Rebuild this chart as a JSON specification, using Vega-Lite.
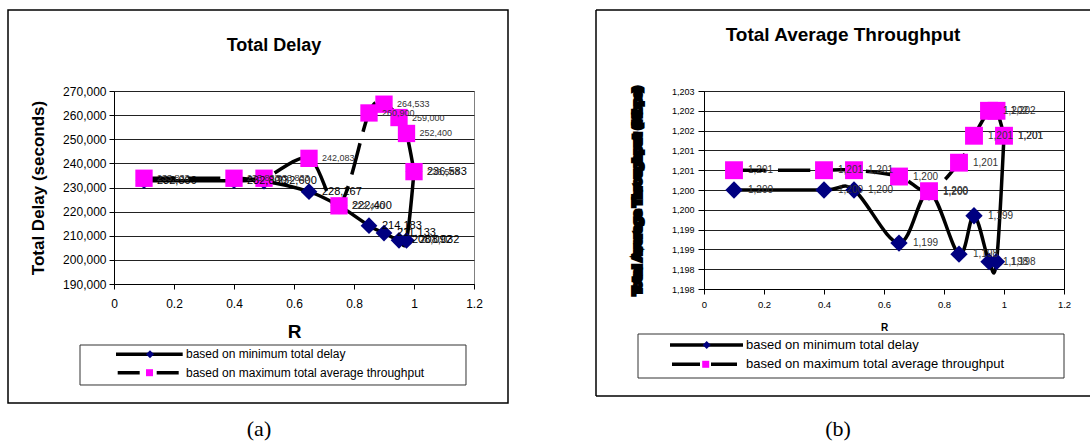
{
  "$schema": "https://vega.github.io/schema/vega-lite/v6.json",
  "padding": {"left": 6, "top": 8, "right": 0, "bottom": 0},
  "spacing": 84,
  "background": "white",
  "datasets": {
    "delay": [
      {"R": 0.1, "series": "based on minimum total delay", "value": 232800},
      {"R": 0.4, "series": "based on minimum total delay", "value": 232800},
      {"R": 0.5, "series": "based on minimum total delay", "value": 232600},
      {"R": 0.65, "series": "based on minimum total delay", "value": 228267},
      {"R": 0.75, "series": "based on minimum total delay", "value": 222400},
      {"R": 0.85, "series": "based on minimum total delay", "value": 214183},
      {"R": 0.9, "series": "based on minimum total delay", "value": 211133},
      {"R": 0.95, "series": "based on minimum total delay", "value": 208092},
      {"R": 0.975, "series": "based on minimum total delay", "value": 208032},
      {"R": 1.0, "series": "based on minimum total delay", "value": 236583},
      {"R": 0.1, "series": "based on maximum total average throughput", "value": 233833},
      {"R": 0.4, "series": "based on maximum total average throughput", "value": 233833},
      {"R": 0.5, "series": "based on maximum total average throughput", "value": 233833},
      {"R": 0.65, "series": "based on maximum total average throughput", "value": 242083},
      {"R": 0.75, "series": "based on maximum total average throughput", "value": 222400},
      {"R": 0.85, "series": "based on maximum total average throughput", "value": 260900},
      {"R": 0.9, "series": "based on maximum total average throughput", "value": 264533},
      {"R": 0.95, "series": "based on maximum total average throughput", "value": 259000},
      {"R": 0.975, "series": "based on maximum total average throughput", "value": 252400},
      {"R": 1.0, "series": "based on maximum total average throughput", "value": 236583}
    ],
    "thr": [
      {"R": 0.1, "series": "based on minimum total delay", "value": 1200.0},
      {"R": 0.4, "series": "based on minimum total delay", "value": 1200.0},
      {"R": 0.5, "series": "based on minimum total delay", "value": 1200.0},
      {"R": 0.65, "series": "based on minimum total delay", "value": 1198.66},
      {"R": 0.75, "series": "based on minimum total delay", "value": 1199.95},
      {"R": 0.85, "series": "based on minimum total delay", "value": 1198.38},
      {"R": 0.9, "series": "based on minimum total delay", "value": 1199.35},
      {"R": 0.95, "series": "based on minimum total delay", "value": 1198.19},
      {"R": 0.975, "series": "based on minimum total delay", "value": 1198.19},
      {"R": 1.0, "series": "based on minimum total delay", "value": 1201.37},
      {"R": 0.1, "series": "based on maximum total average throughput", "value": 1200.5},
      {"R": 0.4, "series": "based on maximum total average throughput", "value": 1200.5},
      {"R": 0.5, "series": "based on maximum total average throughput", "value": 1200.5},
      {"R": 0.65, "series": "based on maximum total average throughput", "value": 1200.34},
      {"R": 0.75, "series": "based on maximum total average throughput", "value": 1199.97},
      {"R": 0.85, "series": "based on maximum total average throughput", "value": 1200.69},
      {"R": 0.9, "series": "based on maximum total average throughput", "value": 1201.37},
      {"R": 0.95, "series": "based on maximum total average throughput", "value": 1202.0},
      {"R": 0.975, "series": "based on maximum total average throughput", "value": 1202.0},
      {"R": 1.0, "series": "based on maximum total average throughput", "value": 1201.37}
    ],
    "legend": [
      {"series": "based on minimum total delay"},
      {"series": "based on maximum total average throughput"}
    ],
    "captions": [
      {"panel": "a", "caption": "(a)"},
      {"panel": "b", "caption": "(b)"}
    ]
  },
  "config": {
    "font": "Liberation Sans",
    "view": {"stroke": null},
    "axis": {"labelColor": "#000", "titleColor": "#000", "domainColor": "#000", "tickColor": "#000", "gridColor": "#222", "domainWidth": 1, "tickWidth": 1, "gridWidth": 1, "labelFont": "Liberation Sans", "titleFont": "Liberation Sans"},
    "title": {"color": "#000", "font": "Liberation Sans"},
    "text": {"font": "Liberation Sans"}
  },
  "hconcat": [
    {
      "width": 360,
      "height": 193,
      "view": {"stroke": "#808080"},
      "title": {"text": "Total Delay", "fontSize": 18, "fontWeight": "bold", "frame": "group", "anchor": "middle", "dx": -20, "offset": -46},
      "resolve": {"axis": {"x": "independent", "y": "independent"}},
      "layer": [
        {
          "data": {"name": "delay"},
          "transform": [{"filter": "datum.series == 'based on minimum total delay'"}],
          "mark": {"type": "line", "interpolate": "cardinal", "color": "#000", "strokeWidth": 3.5},
          "encoding": {
            "x": {"field": "R", "type": "quantitative", "scale": {"domain": [0, 1.2], "nice": false},
              "axis": {"orient": "bottom", "values": [0, 0.2, 0.4, 0.6, 0.8, 1, 1.2], "format": "~g", "title": "R", "titleFontSize": 19, "titleFontWeight": "bold", "labelFontSize": 12, "grid": false, "tickSize": 5, "labelPadding": 9, "titlePadding": 13, "labelFlush": false}},
            "y": {"field": "value", "type": "quantitative", "scale": {"domain": [190000, 270000], "nice": false, "zero": false},
              "axis": {"orient": "left", "values": [190000, 200000, 210000, 220000, 230000, 240000, 250000, 260000, 270000], "format": ",.0f", "title": "Total Delay (seconds)", "titleFontSize": 17, "titleFontWeight": "bold", "labelFontSize": 12, "grid": true, "tickSize": 5, "labelPadding": 3, "titlePadding": 15}}
          }
        },
        {
          "data": {"name": "captions"},
          "transform": [{"filter": "datum.panel == 'a'"}],
          "mark": {"type": "rect", "fillOpacity": 0, "stroke": "#000", "strokeWidth": 1.5},
          "encoding": {"x": {"datum": -0.35333, "axis": null}, "x2": {"datum": 1.31333}, "y": {"datum": 303575, "axis": null}, "y2": {"datum": 140674}}
        },
        {
          "data": {"name": "captions"},
          "transform": [{"filter": "datum.panel == 'a'"}],
          "mark": {"type": "rect", "fillOpacity": 0, "stroke": "#333", "strokeWidth": 1},
          "encoding": {"x": {"datum": -0.11333, "axis": null}, "x2": {"datum": 1.17333}, "y": {"datum": 164715, "axis": null}, "y2": {"datum": 148135}}
        },
        {
          "data": {"name": "delay"},
          "transform": [{"filter": "datum.series == 'based on minimum total delay'"}],
          "mark": {"type": "point", "shape": "diamond", "filled": true, "color": "#000080", "size": 280, "opacity": 1},
          "encoding": {"x": {"field": "R", "type": "quantitative", "axis": null}, "y": {"field": "value", "type": "quantitative", "axis": null}}
        },
        {
          "data": {"name": "delay"},
          "transform": [{"filter": "datum.series == 'based on maximum total average throughput'"}],
          "mark": {"type": "line", "interpolate": "cardinal", "color": "#000", "strokeWidth": 3.5, "strokeDash": [32, 12]},
          "encoding": {"x": {"field": "R", "type": "quantitative", "axis": null}, "y": {"field": "value", "type": "quantitative", "axis": null}}
        },
        {
          "data": {"name": "delay"},
          "transform": [{"filter": "datum.series == 'based on maximum total average throughput'"}],
          "mark": {"type": "square", "color": "#ff00ff", "size": 300, "opacity": 1},
          "encoding": {"x": {"field": "R", "type": "quantitative", "axis": null}, "y": {"field": "value", "type": "quantitative", "axis": null}}
        },
        {
          "data": {"name": "delay"},
          "transform": [{"filter": "datum.series == 'based on minimum total delay'"}],
          "mark": {"type": "text", "align": "left", "baseline": "middle", "dx": 13, "fontSize": 11, "color": "#000"},
          "encoding": {"x": {"field": "R", "type": "quantitative", "axis": null}, "y": {"field": "value", "type": "quantitative", "axis": null}, "text": {"field": "value", "type": "quantitative", "format": ",.0f"}}
        },
        {
          "data": {"name": "delay"},
          "transform": [{"filter": "datum.series == 'based on maximum total average throughput'"}],
          "mark": {"type": "text", "align": "left", "baseline": "middle", "dx": 13, "fontSize": 9, "color": "#333"},
          "encoding": {"x": {"field": "R", "type": "quantitative", "axis": null}, "y": {"field": "value", "type": "quantitative", "axis": null}, "text": {"field": "value", "type": "quantitative", "format": ",.0f"}}
        },
        {
          "data": {"name": "legend"},
          "transform": [{"filter": "datum.series == 'based on minimum total delay'"}],
          "mark": {"type": "rule", "color": "#000", "strokeWidth": 3.5},
          "encoding": {"x": {"datum": 0.00667, "axis": null}, "x2": {"datum": 0.229}, "y": {"datum": 160860, "axis": null}}
        },
        {
          "data": {"name": "legend"},
          "transform": [{"filter": "datum.series == 'based on minimum total delay'"}],
          "mark": {"type": "point", "shape": "diamond", "filled": true, "color": "#000080", "size": 64, "opacity": 1},
          "encoding": {"x": {"datum": 0.12, "axis": null}, "y": {"datum": 160860, "axis": null}}
        },
        {
          "data": {"name": "legend"},
          "transform": [{"filter": "datum.series == 'based on minimum total delay'"}],
          "mark": {"type": "text", "align": "left", "baseline": "middle", "fontSize": 12, "color": "#000"},
          "encoding": {"x": {"datum": 0.24, "axis": null}, "y": {"datum": 160860, "axis": null}, "text": {"field": "series"}}
        },
        {
          "data": {"name": "legend"},
          "transform": [{"filter": "datum.series == 'based on maximum total average throughput'"}],
          "mark": {"type": "rule", "color": "#000", "strokeWidth": 3.5, "strokeDash": [22, 17]},
          "encoding": {"x": {"datum": 0.01233, "axis": null}, "x2": {"datum": 0.21833}, "y": {"datum": 153233, "axis": null}}
        },
        {
          "data": {"name": "legend"},
          "transform": [{"filter": "datum.series == 'based on maximum total average throughput'"}],
          "mark": {"type": "square", "color": "#ff00ff", "size": 49, "opacity": 1},
          "encoding": {"x": {"datum": 0.11833, "axis": null}, "y": {"datum": 153233, "axis": null}}
        },
        {
          "data": {"name": "legend"},
          "transform": [{"filter": "datum.series == 'based on maximum total average throughput'"}],
          "mark": {"type": "text", "align": "left", "baseline": "middle", "fontSize": 12, "color": "#000"},
          "encoding": {"x": {"datum": 0.24, "axis": null}, "y": {"datum": 153233, "axis": null}, "text": {"field": "series"}}
        },
        {
          "data": {"name": "captions"},
          "transform": [{"filter": "datum.panel == 'a'"}],
          "mark": {"type": "text", "align": "center", "baseline": "middle", "fontSize": 22, "font": "Liberation Serif", "color": "#000"},
          "encoding": {"x": {"datum": 0.48333, "axis": null}, "y": {"datum": 129896, "axis": null}, "text": {"field": "caption"}}
        }
      ]
    },
    {
      "width": 360,
      "height": 198,
      "view": {"stroke": "#000"},
      "title": {"text": "Total Average Throughput", "fontSize": 19, "fontWeight": "bold", "frame": "group", "anchor": "middle", "dx": -41, "offset": -36},
      "resolve": {"axis": {"x": "independent", "y": "independent"}},
      "layer": [
        {
          "data": {"name": "thr"},
          "transform": [{"filter": "datum.series == 'based on minimum total delay'"}],
          "mark": {"type": "line", "interpolate": "cardinal", "color": "#000", "strokeWidth": 3.5},
          "encoding": {
            "x": {"field": "R", "type": "quantitative", "scale": {"domain": [0, 1.2], "nice": false},
              "axis": {"orient": "bottom", "values": [0, 0.2, 0.4, 0.6, 0.8, 1, 1.2], "format": "~g", "title": "R", "titleFontSize": 10, "titleFontWeight": "bold", "labelFontSize": 9.5, "grid": false, "tickSize": 5, "labelPadding": 5, "titlePadding": 14, "labelFlush": false}},
            "y": {"field": "value", "type": "quantitative", "scale": {"domain": [1197.5, 1202.5], "nice": false, "zero": false},
              "axis": {"orient": "left", "values": [1197.5, 1198, 1198.5, 1199, 1199.5, 1200, 1200.5, 1201, 1201.5, 1202, 1202.5], "format": ",.0f", "title": "Total Average Throughput (Mbps)", "titleFont": "DejaVu Sans", "titleFontSize": 11, "titleFontWeight": "bold", "labelFontSize": 9, "grid": true, "tickSize": 6, "labelPadding": 4, "titlePadding": 29,
                "encoding": {"title": {"stroke": {"value": "#000"}, "strokeWidth": {"value": 4}}}}}
          }
        },
        {
          "data": {"name": "captions"},
          "transform": [{"filter": "datum.panel == 'b'"}],
          "mark": {"type": "rule", "color": "#000", "strokeWidth": 1.5},
          "encoding": {"x": {"datum": -0.36, "axis": null}, "x2": {"datum": 1.28667}, "y": {"datum": 1204.5455, "axis": null}}
        },
        {
          "data": {"name": "captions"},
          "transform": [{"filter": "datum.panel == 'b'"}],
          "mark": {"type": "rule", "color": "#000", "strokeWidth": 1.5},
          "encoding": {"x": {"datum": -0.36, "axis": null}, "y": {"datum": 1204.5455, "axis": null}, "y2": {"datum": 1194.798}}
        },
        {
          "data": {"name": "captions"},
          "transform": [{"filter": "datum.panel == 'b'"}],
          "mark": {"type": "rule", "color": "#000", "strokeWidth": 1.5},
          "encoding": {"x": {"datum": -0.36, "axis": null}, "x2": {"datum": 1.28667}, "y": {"datum": 1194.798, "axis": null}}
        },
        {
          "data": {"name": "captions"},
          "transform": [{"filter": "datum.panel == 'b'"}],
          "mark": {"type": "rect", "fillOpacity": 0, "stroke": "#333", "strokeWidth": 1},
          "encoding": {"x": {"datum": -0.22, "axis": null}, "x2": {"datum": 1.2}, "y": {"datum": 1196.3636, "axis": null}, "y2": {"datum": 1195.2525}}
        },
        {
          "data": {"name": "thr"},
          "transform": [{"filter": "datum.series == 'based on minimum total delay'"}],
          "mark": {"type": "point", "shape": "diamond", "filled": true, "color": "#000080", "size": 300, "opacity": 1},
          "encoding": {"x": {"field": "R", "type": "quantitative", "axis": null}, "y": {"field": "value", "type": "quantitative", "axis": null}}
        },
        {
          "data": {"name": "thr"},
          "transform": [{"filter": "datum.series == 'based on maximum total average throughput'"}],
          "mark": {"type": "line", "interpolate": "cardinal", "color": "#000", "strokeWidth": 3.5, "strokeDash": [32, 12]},
          "encoding": {"x": {"field": "R", "type": "quantitative", "axis": null}, "y": {"field": "value", "type": "quantitative", "axis": null}}
        },
        {
          "data": {"name": "thr"},
          "transform": [{"filter": "datum.series == 'based on maximum total average throughput'"}],
          "mark": {"type": "square", "color": "#ff00ff", "size": 320, "opacity": 1},
          "encoding": {"x": {"field": "R", "type": "quantitative", "axis": null}, "y": {"field": "value", "type": "quantitative", "axis": null}}
        },
        {
          "data": {"name": "thr"},
          "transform": [{"filter": "datum.series == 'based on minimum total delay'"}],
          "mark": {"type": "text", "align": "left", "baseline": "middle", "dx": 14, "fontSize": 10, "color": "#333"},
          "encoding": {"x": {"field": "R", "type": "quantitative", "axis": null}, "y": {"field": "value", "type": "quantitative", "axis": null}, "text": {"field": "value", "type": "quantitative", "format": ",.0f"}}
        },
        {
          "data": {"name": "thr"},
          "transform": [{"filter": "datum.series == 'based on maximum total average throughput'"}],
          "mark": {"type": "text", "align": "left", "baseline": "middle", "dx": 14, "fontSize": 10, "color": "#333"},
          "encoding": {"x": {"field": "R", "type": "quantitative", "axis": null}, "y": {"field": "value", "type": "quantitative", "axis": null}, "text": {"field": "value", "type": "quantitative", "format": ",.0f"}}
        },
        {
          "data": {"name": "legend"},
          "transform": [{"filter": "datum.series == 'based on minimum total delay'"}],
          "mark": {"type": "rule", "color": "#000", "strokeWidth": 3.5},
          "encoding": {"x": {"datum": -0.11333, "axis": null}, "x2": {"datum": 0.13}, "y": {"datum": 1196.0859, "axis": null}}
        },
        {
          "data": {"name": "legend"},
          "transform": [{"filter": "datum.series == 'based on minimum total delay'"}],
          "mark": {"type": "point", "shape": "diamond", "filled": true, "color": "#000080", "size": 64, "opacity": 1},
          "encoding": {"x": {"datum": 0.009, "axis": null}, "y": {"datum": 1196.0859, "axis": null}}
        },
        {
          "data": {"name": "legend"},
          "transform": [{"filter": "datum.series == 'based on minimum total delay'"}],
          "mark": {"type": "text", "align": "left", "baseline": "middle", "fontSize": 13, "color": "#000"},
          "encoding": {"x": {"datum": 0.14, "axis": null}, "y": {"datum": 1196.0859, "axis": null}, "text": {"field": "series"}}
        },
        {
          "data": {"name": "legend"},
          "transform": [{"filter": "datum.series == 'based on maximum total average throughput'"}],
          "mark": {"type": "rule", "color": "#000", "strokeWidth": 3.5, "strokeDash": [28, 11]},
          "encoding": {"x": {"datum": -0.10667, "axis": null}, "x2": {"datum": 0.11}, "y": {"datum": 1195.5985, "axis": null}}
        },
        {
          "data": {"name": "legend"},
          "transform": [{"filter": "datum.series == 'based on maximum total average throughput'"}],
          "mark": {"type": "square", "color": "#ff00ff", "size": 49, "opacity": 1},
          "encoding": {"x": {"datum": 0.00567, "axis": null}, "y": {"datum": 1195.5985, "axis": null}}
        },
        {
          "data": {"name": "legend"},
          "transform": [{"filter": "datum.series == 'based on maximum total average throughput'"}],
          "mark": {"type": "text", "align": "left", "baseline": "middle", "fontSize": 13, "color": "#000"},
          "encoding": {"x": {"datum": 0.14, "axis": null}, "y": {"datum": 1195.5985, "axis": null}, "text": {"field": "series"}}
        },
        {
          "data": {"name": "captions"},
          "transform": [{"filter": "datum.panel == 'b'"}],
          "mark": {"type": "text", "align": "center", "baseline": "middle", "fontSize": 22, "font": "Liberation Serif", "color": "#000"},
          "encoding": {"x": {"datum": 0.44667, "axis": null}, "y": {"datum": 1193.9646, "axis": null}, "text": {"field": "caption"}}
        }
      ]
    }
  ]
}
